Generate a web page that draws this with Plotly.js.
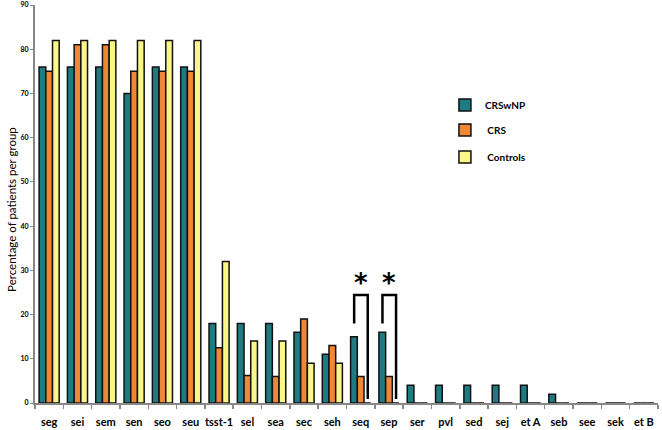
<!DOCTYPE html>
<html>
<head>
<meta charset="utf-8">
<script src="https://cdn.plot.ly/plotly-3.0.1.min.js"></script>
<style>html,body{margin:0;padding:0;background:#fff;}#chart{width:662px;height:430px;}</style>
</head>
<body>
<div id="chart"></div>
<script>
var categories = ["seg","sei","sem","sen","seo","seu","tsst-1","sel","sea","sec","seh","seq","sep","ser","pvl","sed","sej","et A","seb","see","sek","et B"];
var crswnp   = [76,76,76,70,76,76,18,18,18,16,11,15,16,4,4,4,4,4,2,0,0,0];
var crs      = [75,81,81,75,75,75,12.5,6.2,6,19,13,6,6,0,0,0,0,0,0,0,0,0];
var controls = [82,82,82,82,82,82,32,14,14,9,9,0,0,0,0,0,0,0,0,0,0,0];
var yTicks = [0,10,20,30,40,50,60,70,80,90];
var significant = ["seq","sep"];

var outline = {color:"#111", width:1.5};
function tr(name, vals, color, lg){
  return {type:"bar", name:name, x:categories, y:vals, legend:lg,
    marker:{color:color, line:outline}, hoverinfo:"x+y"};
}
var data = [
  tr("CRSwNP", crswnp, "#1f7b82", "legend"),
  tr(" CRS", crs, "#ee8736", "legend2"),
  tr(" Controls", controls, "#fbf68a", "legend3")
];

var shapes = [], annotations = [];
var sigIdx = significant.map(function(c){ return categories.indexOf(c); });
var topVal = Math.max.apply(null, sigIdx.map(function(i){ return crswnp[i]; }));
sigIdx.forEach(function(i){
  var yl = topVal + 2, yt = topVal + 8.4, yr = controls[i] + 0.9;
  var x0 = i - 0.23, x1 = i + 0.25;
  shapes.push({type:"path", xref:"x", yref:"y",
    path:"M "+x0+","+yl+" L "+x0+","+yt+" L "+x1+","+yt+" L "+x1+","+yr,
    line:{color:"#000", width:2.5}});
  annotations.push({xref:"x", yref:"y", x:(x0+x1)/2, y:yt - 1.0, yanchor:"bottom", text:"*", showarrow:false,
    font:{family:"'DejaVu Sans', sans-serif", size:26, color:"#000", weight:"bold"}});
});
annotations.push({xref:"paper", yref:"paper", x:-0.038, y:0.486, xanchor:"center", yanchor:"middle",
  textangle:-90, text:"Percentage of patients per group", showarrow:false,
  font:{size:11.5, color:"#000"}});

function leg(y){
  return {x:0.658, y:y, xanchor:"left", yanchor:"middle", bgcolor:"rgba(0,0,0,0)",
    font:{size:10, weight:"bold", color:"#000"}, itemwidth:30};
}

var layout = {
  width:662, height:430,
  margin:{l:35, r:4, t:5, b:27},
  paper_bgcolor:"#fff", plot_bgcolor:"#fff",
  barmode:"group", bargap:0.29, bargroupgap:0,
  font:{family:"Lato, 'Open Sans', sans-serif", color:"#000"},
  xaxis:{type:"category", tickson:"boundaries", ticks:"outside", ticklen:4, tickcolor:"#888", tickwidth:1.5,
    tickangle:0, ticklabelstandoff:8,
    showline:true, linecolor:"#888", linewidth:2, showgrid:false, zeroline:false,
    tickfont:{size:11, weight:"bold", color:"#000"}, automargin:false},
  yaxis:{range:[0,90], tickvals:yTicks, ticktext:yTicks.map(String), ticks:"outside", ticklen:3, tickcolor:"#888",
    showline:true, linecolor:"#888", linewidth:2, showgrid:false, zeroline:false,
    tickfont:{size:7, weight:"bold", color:"#000"}, automargin:false},
  legend:leg(0.749), legend2:leg(0.686), legend3:leg(0.618),
  shapes:shapes, annotations:annotations,
  showlegend:true
};
Plotly.newPlot("chart", data, layout, {displayModeBar:false, staticPlot:true});
</script>
</body>
</html>
